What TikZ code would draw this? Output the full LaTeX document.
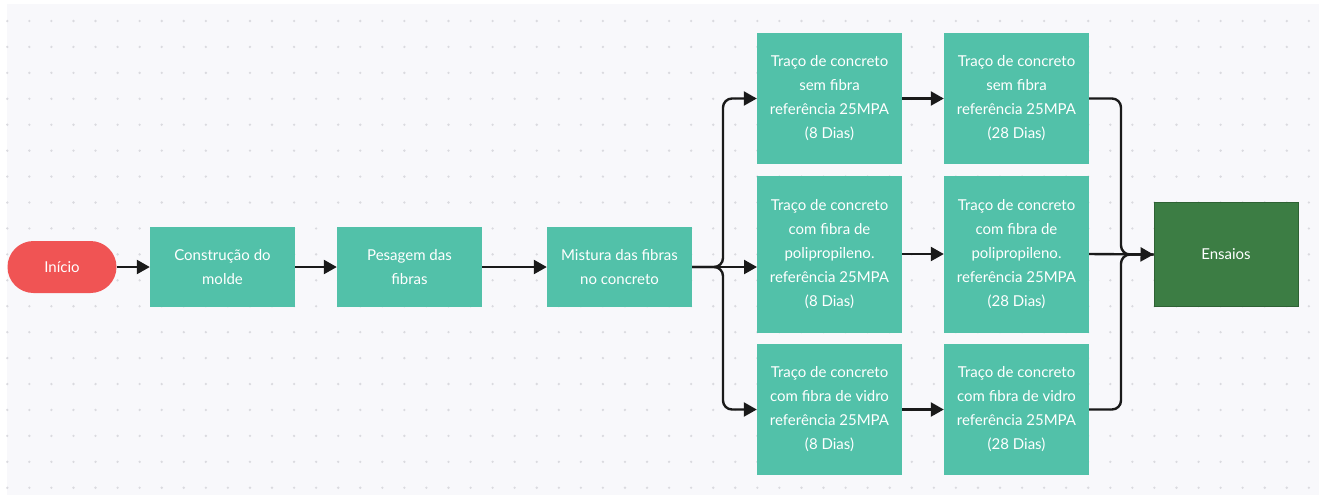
\documentclass[tikz,border=0pt]{standalone}
\usepackage{fontspec}
\setmainfont{Lato}
\usetikzlibrary{arrows.meta}
\definecolor{bgc}{HTML}{F8F8FB}
\definecolor{dotc}{HTML}{DADADF}
\definecolor{teal}{HTML}{52C1A9}
\definecolor{redc}{HTML}{F05454}
\definecolor{darkg}{HTML}{3C7D44}
\definecolor{darkgb}{HTML}{2E6234}
\definecolor{linec}{HTML}{1A1A1A}
\tikzset{
  box/.style={fill=teal, draw=none, text=white, minimum width=145pt, align=center, font=\fontsize{15}{24}\selectfont, inner sep=0pt},
  startnode/.style={fill=redc, draw=none, text=white, rounded corners=26pt, minimum width=109pt, minimum height=52pt, font=\fontsize{15}{24}\selectfont},
  endnode/.style={fill=darkg, draw=darkgb, line width=1pt, text=white, minimum width=144pt, minimum height=104pt, font=\fontsize{15}{24}\selectfont},
  conn/.style={draw=linec, line width=2.4pt, rounded corners=9pt, -{Triangle[length=13pt,width=14pt]}},
  connplain/.style={draw=linec, line width=2.4pt, rounded corners=9pt}
}
\begin{document}
\begin{tikzpicture}[x=1pt,y=-1pt]
\useasboundingbox (0,0) rectangle (1319,499);
\fill[bgc] (7,4) rectangle (1319,495);
\foreach \i in {0,...,59}{
  \foreach \j in {0,...,18}{
    \fill[dotc] ({7.3+22.06*\i},{21+25.93*\j}) circle (1.3pt);
  }
}
\node[startnode] (ini) at (62,267) {Início};
\node[box, minimum height=80pt] (cons) at (222.5,267) {Construção do\\molde};
\node[box, minimum height=80pt] (pes) at (409.5,267) {Pesagem das\\fibras};
\node[box, minimum height=80pt] (mis) at (619.5,267) {Mistura das fibras\\no concreto};
\node[box, minimum height=131pt] (a1) at (829.5,98.5) {Traço de concreto\\sem fibra\\referência 25MPA\\(8 Dias)};
\node[box, minimum height=157pt] (b1) at (829.5,254) {Traço de concreto\\com fibra de\\polipropileno.\\referência 25MPA\\(8 Dias)};
\node[box, minimum height=131pt] (c1) at (829.5,409.5) {Traço de concreto\\com fibra de vidro\\referência 25MPA\\(8 Dias)};
\node[box, minimum height=131pt] (a2) at (1016.5,98.5) {Traço de concreto\\sem fibra\\referência 25MPA\\(28 Dias)};
\node[box, minimum height=157pt] (b2) at (1016.5,254) {Traço de concreto\\com fibra de\\polipropileno.\\referência 25MPA\\(28 Dias)};
\node[box, minimum height=131pt] (c2) at (1016.5,409.5) {Traço de concreto\\com fibra de vidro\\referência 25MPA\\(28 Dias)};
\node[endnode] (ens) at (1226,254.5) {Ensaios};
\coordinate (sp) at (723,267);
\coordinate (jn) at (1121,254.5);
\draw[conn] (ini.east) -- (cons.west);
\draw[conn] (cons.east) -- (pes.west);
\draw[conn] (pes.east) -- (mis.west);
\draw[conn] (mis.east) -- (sp) -- (sp |- a1.west) -- (a1.west);
\draw[conn] (mis.east) -- (sp) -- (sp |- c1.west) -- (c1.west);
\draw[conn] (mis.east) -- (757,267);
\draw[conn] (a1.east) -- (a2.west);
\draw[conn] (b1.east) -- (b2.west);
\draw[conn] (c1.east) -- (c2.west);
\draw[connplain] (a2.east) -- (jn |- a2.east) -- (jn) -- (ens.west);
\draw[connplain] (c2.east) -- (jn |- c2.east) -- (jn) -- (ens.west);
\draw[conn] (b2.east) -- (ens.west);
\end{tikzpicture}
\end{document}
